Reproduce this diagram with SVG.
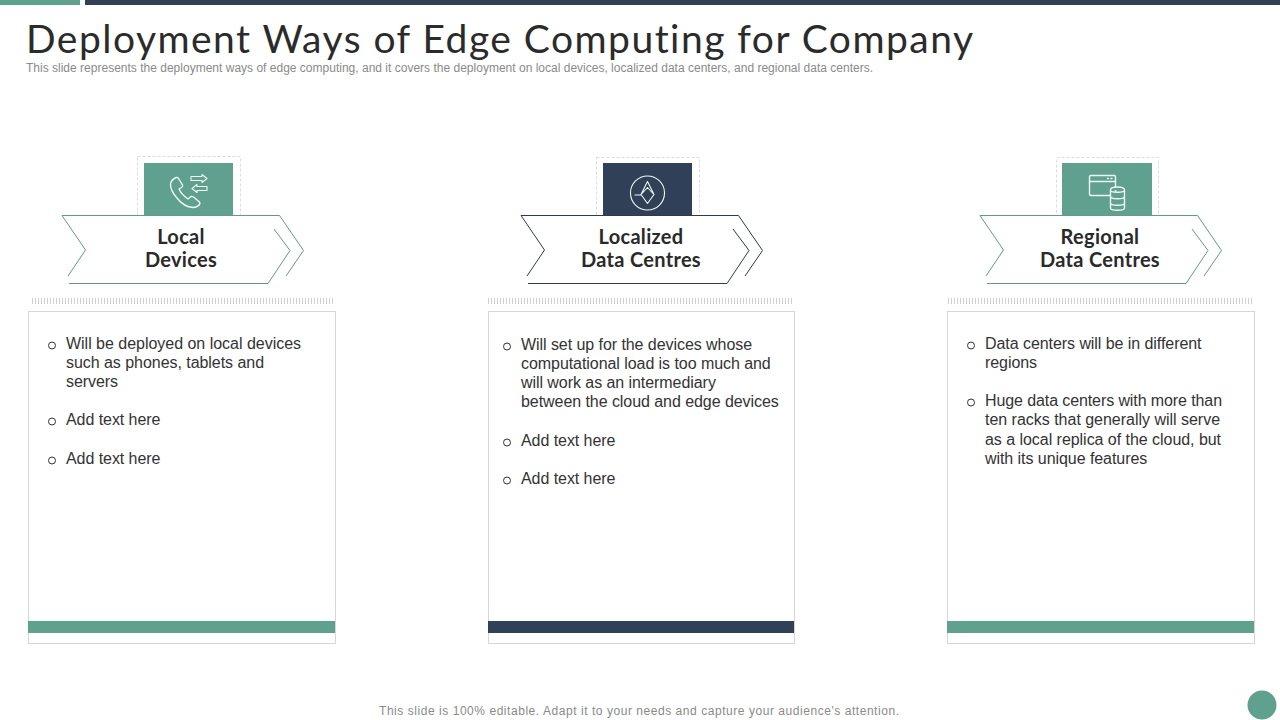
<svg xmlns="http://www.w3.org/2000/svg" width="1280" height="720" viewBox="0 0 1280 720">
<style>
text{font-family:"Liberation Sans",Arial,sans-serif;font-variant-ligatures:none}
.title{font-family:"Lato","Open Sans",sans-serif;font-weight:400;font-size:39px;fill:#2b2b2b}
.sub{font-size:12px;fill:#8a8a8a}
.foot{font-size:12px;fill:#8a8a8a}
.head{font-family:"Lato","Open Sans",sans-serif;font-weight:700;font-size:20px;letter-spacing:.3px;fill:#2a2a2a;text-anchor:middle}
.b{font-size:16px;fill:#333;letter-spacing:-.06px}
.bullet{fill:none;stroke:#333;stroke-width:1}
.card{fill:#fff;stroke:#d6d6d6;stroke-width:1}
.dash{fill:none;stroke:#dcdcdc;stroke-width:1;stroke-dasharray:3 2}
.ticks{stroke:#d0d0d0;stroke-width:6;stroke-dasharray:1 2;fill:none}
.g{fill:#5fa08e}
.n{fill:#2f4057}
.ls{fill:none;stroke-width:1}
.lg{stroke:#5f9a8a}
.ln{stroke:#2f3a4a}
.ic{fill:none;stroke:#f0f8f5;stroke-width:1.4;stroke-linejoin:round;stroke-linecap:round}
</style>
<g id="topbar">
<rect class="g" x="0" y="0" width="80" height="5"/>
<rect class="n" x="85" y="0" width="1195" height="5"/>
</g>
<g id="header">
<text class="title" x="26" y="53" textLength="947" lengthAdjust="spacing">Deployment Ways of Edge Computing for Company</text>
<text class="sub" x="26" y="72" textLength="847" lengthAdjust="spacing">This slide represents the deployment ways of edge computing, and it covers the deployment on local devices, localized data centers, and regional data centers.</text>
</g>

<g id="node-local">
<rect class="dash" x="137.500" y="156.500" width="103" height="59"/>
<rect class="g" x="144" y="163" width="89" height="53"/>
<g class="ic">
<path d="M170.500 184Q171 180 176 177.500Q177.500 177 178.500 178.500L182.500 185Q183 186.500 181.500 187.500L179 189Q181 194 188 199L191 196.500Q192 196 193.500 197L199.500 202Q200.500 203 199.500 204.500Q197 207.500 193 207.500Q184 207 177 198Q170 190 170.500 184z"/>
<path d="M191 176.500h11v-2l5 4-5 4v-2h-11z" style="stroke-width:1.1"/>
<path d="M207 186.500h-10v-2l-5 4 5 4v-2h10z" style="stroke-width:1.1"/>
</g>
<path d="M62 215.500H279.500L303.500 250.500 286 276M62 215.500L85.500 250 68 276M69 283.500H268L290 250.500 274 229" class="ls lg"/>
<text class="head" x="181" y="244">Local</text>
<text class="head" x="181" y="267">Devices</text>
<path class="ticks" d="M32 301H335"/>
<rect class="card" x="28.500" y="311.500" width="307" height="332"/>
<rect class="g" x="28" y="621" width="307" height="12"/>
<circle class="bullet" cx="52" cy="345.500" r="3.500"/>
<text class="b" x="66" y="349" textLength="235">Will be deployed on local devices</text>
<text class="b" x="66" y="368" textLength="198">such as phones, tablets and</text>
<text class="b" x="66" y="387">servers</text>
<circle class="bullet" cx="52" cy="421.500" r="3.500"/>
<text class="b" x="66" y="425">Add text here</text>
<circle class="bullet" cx="52" cy="460.500" r="3.500"/>
<text class="b" x="66" y="464">Add text here</text>
</g>

<g id="node-localized">
<rect class="dash" x="596.500" y="157.500" width="103" height="58"/>
<rect class="n" x="603" y="163" width="89" height="53"/>
<g class="ic" style="stroke-width:1.1">
<circle cx="647.500" cy="193" r="17"/>
<path d="M647.500 181.500L654 194.500 647.500 203.500 641 194.500zM647.500 187.500L654 194.500M647.500 187.500L641 194.500M635 195H641"/>
</g>
<path d="M521 215.500H738.500L762.500 250.500 745 276M521 215.500L544.500 250 527 276M528 283.500H727L749 250.500 733 229" class="ls ln"/>
<text class="head" x="641" y="244">Localized</text>
<text class="head" x="641" y="267">Data Centres</text>
<path class="ticks" d="M488 301H794"/>
<rect class="card" x="488.500" y="311.500" width="306" height="332"/>
<rect class="n" x="488" y="621" width="306" height="12"/>
<circle class="bullet" cx="507" cy="346.500" r="3.500"/>
<text class="b" x="521" y="350">Will set up for the devices whose</text>
<text class="b" x="521" y="369">computational load is too much and</text>
<text class="b" x="521" y="388">will work as an intermediary</text>
<text class="b" x="521" y="407">between the cloud and edge devices</text>
<circle class="bullet" cx="507" cy="442.500" r="3.500"/>
<text class="b" x="521" y="446">Add text here</text>
<circle class="bullet" cx="507" cy="480.500" r="3.500"/>
<text class="b" x="521" y="484">Add text here</text>
</g>

<g id="node-regional">
<rect class="dash" x="1056.500" y="157.500" width="102" height="58"/>
<rect class="g" x="1062" y="163" width="90" height="53"/>
<g class="ic">
<rect x="1089.500" y="175.500" width="26" height="20" rx="1.500"/>
<path d="M1089.500 181.500H1115.500"/>
<path d="M1107.500 178.500h1M1111 178.500h1"/>
<path d="M1110.500 190c0-4 14-4 14 0v18c0 3-14 3-14 0zM1110.500 190c0 3 14 3 14 0M1110.500 196.500c0 3 14 3 14 0M1110.500 203c0 3 14 3 14 0" fill="#5fa08e"/>
</g>
<path d="M980 215.500H1197.500L1221.500 250.500 1204 276M980 215.500L1003.500 250 986 276M987 283.500H1186L1208 250.500 1192 229" class="ls lg"/>
<text class="head" x="1100" y="244">Regional</text>
<text class="head" x="1100" y="267">Data Centres</text>
<path class="ticks" d="M948 301H1254"/>
<rect class="card" x="947.500" y="311.500" width="307" height="332"/>
<rect class="g" x="947" y="621" width="307" height="12"/>
<circle class="bullet" cx="971" cy="345.500" r="3.500"/>
<text class="b" x="985" y="349">Data centers will be in different</text>
<text class="b" x="985" y="368">regions</text>
<circle class="bullet" cx="971" cy="402.500" r="3.500"/>
<text class="b" x="985" y="406" textLength="237">Huge data centers with more than</text>
<text class="b" x="985" y="425" textLength="235">ten racks that generally will serve</text>
<text class="b" x="985" y="445" textLength="236">as a local replica of the cloud, but</text>
<text class="b" x="985" y="464">with its unique features</text>
</g>

<g id="footer">
<text class="foot" x="379" y="715" textLength="520" lengthAdjust="spacing">This slide is 100% editable. Adapt it to your needs and capture your audience's attention.</text>
<circle class="g" cx="1262" cy="705" r="14.500"/>
</g>
</svg>
